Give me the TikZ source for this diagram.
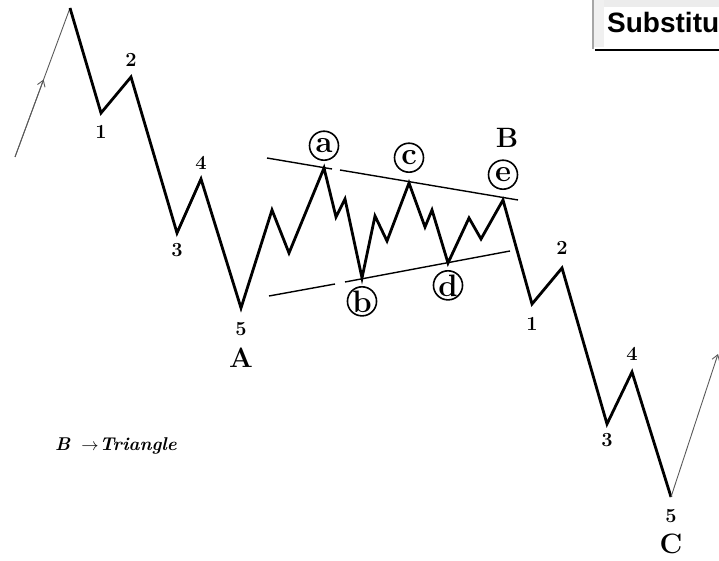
\documentclass[tikz,border=0pt]{standalone}
\usepackage{fontspec}
\newfontfamily\boxfont{Liberation Sans}
\usetikzlibrary{positioning,arrows.meta,calc}

\begin{document}
\begin{tikzpicture}[
    x=1pt, y=-1pt,
    wave/.style={line width=2.8pt, line join=miter},
    trend/.style={line width=1.4pt},
    lead/.style={gray!70!black, line width=0.9pt},
    tip/.style={-{Straight Barb[length=6pt, width=8pt]}},
    num/.style={font=\fontsize{20}{20}\selectfont\bfseries, inner sep=0pt},
    big/.style={font=\fontsize{28}{28}\selectfont\bfseries, inner sep=0pt},
    ring/.style={draw, circle, line width=1.6pt, minimum size=29pt, inner sep=0pt,
                 font=\fontsize{31}{31}\selectfont\bfseries},
    hint/.style={font=\fontsize{18.5}{18.5}\selectfont\bfseries\itshape, inner sep=0pt},
]
\useasboundingbox (0,0) rectangle (719,561);

% ---------------- wave points ----------------
\coordinate (s0) at (15,157);
\coordinate (p0) at (70,8);
\coordinate (w1) at (101,113);
\coordinate (w2) at (131,77);
\coordinate (w3) at (177,233);
\coordinate (w4) at (201,179);
\coordinate (w5) at (241,308);
% triangle
\coordinate (t1) at (272,210);
\coordinate (t2) at (289,253);
\coordinate (ta) at (324,168);
\coordinate (t3) at (336,217);
\coordinate (t4) at (345,199);
\coordinate (tb) at (362,278);
\coordinate (t5) at (375,216);
\coordinate (t6) at (387,241);
\coordinate (tc) at (409,183);
\coordinate (t7) at (425,227);
\coordinate (t8) at (432,210);
\coordinate (td) at (448,263);
\coordinate (t9) at (469,218);
\coordinate (t10) at (481,239);
\coordinate (te) at (503,200);
% last impulse
\coordinate (v1) at (532,304);
\coordinate (v2) at (562,268);
\coordinate (v3) at (607,424);
\coordinate (v4) at (632,372);
\coordinate (v5) at (671,497);
\coordinate (s1) at (718,354);

% ---------------- triangle boundaries ----------------
\coordinate (u1) at (267,158);
\coordinate (u2) at (332,169);
\coordinate (u3) at (340,170);
\coordinate (u4) at (518,200);
\coordinate (l1) at (269,296);
\coordinate (l2) at (335,284);
\coordinate (l3) at (345,282);
\coordinate (l4) at (510,251);
\draw[trend] (u1) -- (u2);
\draw[trend] (u3) -- (u4);
\draw[trend] (l1) -- (l2);
\draw[trend] (l3) -- (l4);

% ---------------- the wave ----------------
\draw[lead] (s0) -- (p0);
\draw[lead, tip] (s0) -- ($(s0)!0.52!(p0)$);
\draw[wave] (p0) -- (w1) -- (w2) -- (w3) -- (w4) -- (w5)
    -- (t1) -- (t2) -- (ta) -- (t3) -- (t4) -- (tb) -- (t5) -- (t6) -- (tc)
    -- (t7) -- (t8) -- (td) -- (t9) -- (t10) -- (te)
    -- (v1) -- (v2) -- (v3) -- (v4) -- (v5);
\draw[lead, tip] (v5) -- (s1);

% ---------------- labels ----------------
\node[num, below=12pt of w1] (n1) {1};
\node[num, above=10pt of w2] (n2) {2};
\node[num, below=10pt of w3] (n3) {3};
\node[num, above=9pt of w4] (n4) {4};
\node[num, below=14pt of w5] (n5) {5};
\node[big, below=12pt of n5] (lA) {A};

\node[ring, above=7pt of ta] (ca) {a};
\node[ring, below=8pt of tb] (cb) {b};
\node[ring, above=10pt of tc] (cc) {c};
\node[ring, below=7pt of td] (cd) {d};
\node[ring, above=10pt of te] (ce) {e};
\node[big, above=12pt of ce, xshift=4pt] (lB) {B};

\node[num, below=13pt of v1] (m1) {1};
\node[num, above=13pt of v2] (m2) {2};
\node[num, below=9pt of v3] (m3) {3};
\node[num, above=11pt of v4] (m4) {4};
\node[num, below=12pt of v5] (m5) {5};
\node[big, below=11pt of m5] (lC) {C};

\node[hint, anchor=base west] (tri) at (55,450) {B\hspace{0.6em}$\rightarrow$\hspace{0.05em}Triangle};

% ---------------- corner box ----------------
\fill[gray!15] (594,0) rectangle (719,7);
\fill[gray!12] (594,0) rectangle (604,47);
\draw[gray!70, line width=1.2pt] (593,0) -- (593,49);
\draw[line width=2.8pt] (595,50) -- (719,50);
\node[anchor=base west, inner sep=0pt, font=\boxfont\fontsize{28}{28}\selectfont\bfseries]
    (subst) at (607,33) {Substitu};
\end{tikzpicture}
\end{document}
